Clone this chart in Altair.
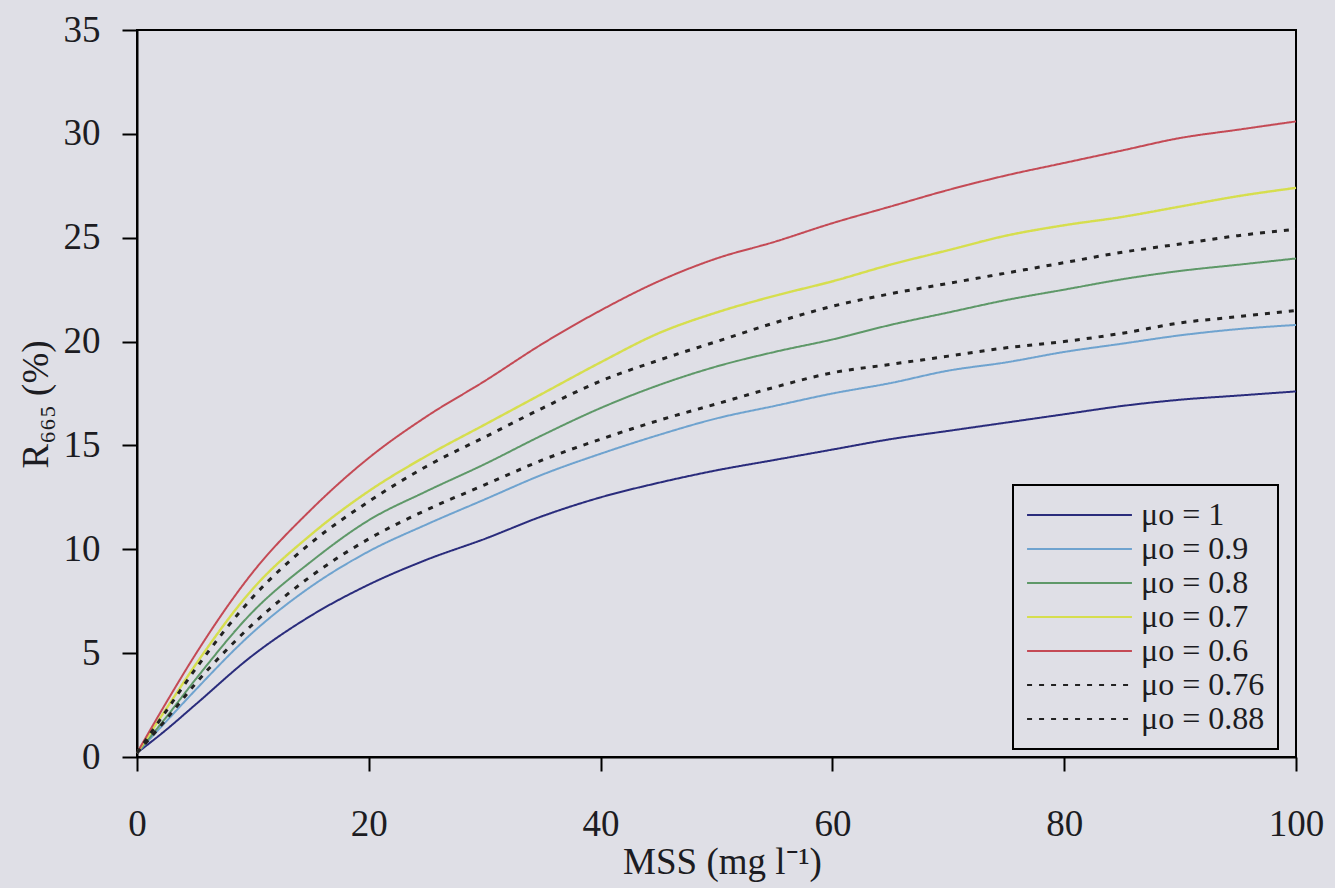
import altair as alt
import pandas as pd

# x positions (MSS, mg/l)
mss = [0, 2.5, 5, 10, 15, 20, 25, 30, 35, 40, 45, 50, 55, 60, 65, 70, 75, 80, 85, 90, 95, 100]

# R665 (%) per series
r_mu_1 = [0.2, 1.3, 2.5, 4.9, 6.8, 8.3, 9.5, 10.5, 11.6, 12.5, 13.2, 13.8, 14.3, 14.8, 15.3, 15.7, 16.1, 16.5, 16.9, 17.2, 17.4, 17.6]
r_mu_09 = [0.2, 1.7, 3.2, 6.0, 8.2, 9.9, 11.2, 12.4, 13.6, 14.6, 15.5, 16.3, 16.9, 17.5, 18.0, 18.6, 19.0, 19.5, 19.9, 20.3, 20.6, 20.8]
r_mu_08 = [0.2, 1.9, 3.7, 7.0, 9.4, 11.4, 12.8, 14.1, 15.5, 16.8, 17.9, 18.8, 19.5, 20.1, 20.8, 21.4, 22.0, 22.5, 23.0, 23.4, 23.7, 24.0]
r_mu_07 = [0.2, 2.3, 4.4, 8.1, 10.7, 12.8, 14.5, 16.0, 17.5, 19.0, 20.4, 21.4, 22.2, 22.9, 23.7, 24.4, 25.1, 25.6, 26.0, 26.5, 27.0, 27.4]
r_mu_06 = [0.2, 2.6, 4.9, 8.9, 11.9, 14.4, 16.4, 18.1, 19.9, 21.5, 22.9, 24.0, 24.8, 25.7, 26.5, 27.3, 28.0, 28.6, 29.2, 29.8, 30.2, 30.6]
r_mu_076 = [0.2, 2.2, 4.2, 7.7, 10.3, 12.3, 14.0, 15.4, 16.8, 18.1, 19.1, 20.0, 20.9, 21.7, 22.3, 22.8, 23.3, 23.8, 24.3, 24.7, 25.1, 25.4]
r_mu_088 = [0.2, 1.8, 3.5, 6.4, 8.7, 10.5, 11.9, 13.1, 14.3, 15.3, 16.2, 17.0, 17.8, 18.5, 18.9, 19.3, 19.7, 20.0, 20.4, 20.9, 21.2, 21.5]

series_names = ["μo = 1", "μo = 0.9", "μo = 0.8", "μo = 0.7", "μo = 0.6", "μo = 0.76", "μo = 0.88"]
series_values = [r_mu_1, r_mu_09, r_mu_08, r_mu_07, r_mu_06, r_mu_076, r_mu_088]
series_colors = ["#2a2c7c", "#6fa3cf", "#5e9868", "#d6de4e", "#c44a55", "#222222", "#222222"]
series_dash = [[1, 0], [1, 0], [1, 0], [1, 0], [1, 0], [5, 7], [5, 7]]
series_width = [2, 2, 2, 2.4, 2, 3, 3]

rows = []
for name, vals, w in zip(series_names, series_values, series_width):
    for xv, yv in zip(mss, vals):
        rows.append({"MSS": xv, "R": yv, "series": name, "w": w})
df = pd.DataFrame(rows)

BG = "#dfdfe6"
FONT = "Liberation Serif"
TXT = "#1c1c22"

chart = alt.Chart(df).mark_line(interpolate="monotone").encode(
    x=alt.X("MSS:Q",
            scale=alt.Scale(domain=[0, 100], nice=False),
            axis=alt.Axis(values=[0, 20, 40, 60, 80, 100], title="MSS (mg l⁻¹)",
                          labelPadding=35, tickSize=14, labelFlush=False,
                          titleX=585, titleY=116, titleBaseline="alphabetic",
                          titleAlign="center")),
    y=alt.Y("R:Q",
            scale=alt.Scale(domain=[0, 35], nice=False),
            axis=alt.Axis(values=[0, 5, 10, 15, 20, 25, 30, 35], title="R₆₆₅ (%)",
                          labelPadding=22, tickSize=15, labelFlush=False,
                          titleAngle=270, titleX=-90, titleY=374,
                          titleBaseline="alphabetic", titleAlign="center")),
    color=alt.Color("series:N",
                    scale=alt.Scale(domain=series_names, range=series_colors),
                    legend=alt.Legend(title=None, orient="none", legendX=876, legendY=455)),
    strokeDash=alt.StrokeDash("series:N",
                              scale=alt.Scale(domain=series_names, range=series_dash),
                              legend=alt.Legend(title=None, orient="none", legendX=876, legendY=455)),
    strokeWidth=alt.StrokeWidth("w:Q", scale=None, legend=None),
    detail="series:N",
).properties(
    width=1159,
    height=727,
    autosize=alt.AutoSizeParams(type="none"),
    padding={"left": 137, "top": 30, "right": 39, "bottom": 131},
    background=BG,
).configure_view(
    stroke="black", strokeWidth=2, fill=BG
).configure_axis(
    grid=False,
    domainColor="black", domainWidth=2,
    tickColor="black", tickWidth=2,
    labelFont=FONT, labelFontSize=37, labelColor=TXT,
    titleFont=FONT, titleFontSize=37, titleColor=TXT, titleFontWeight="normal",
).configure_legend(
    labelFont=FONT, labelFontSize=32, labelColor=TXT,
    symbolType="stroke", symbolSize=11000, symbolStrokeWidth=2,
    clipHeight=34, rowPadding=0, labelOffset=8,
    padding=13, strokeColor="black", strokeWidth=2, fillColor=BG,
)

chart.save("out.html", embed_options={"renderer": "svg", "actions": False})
